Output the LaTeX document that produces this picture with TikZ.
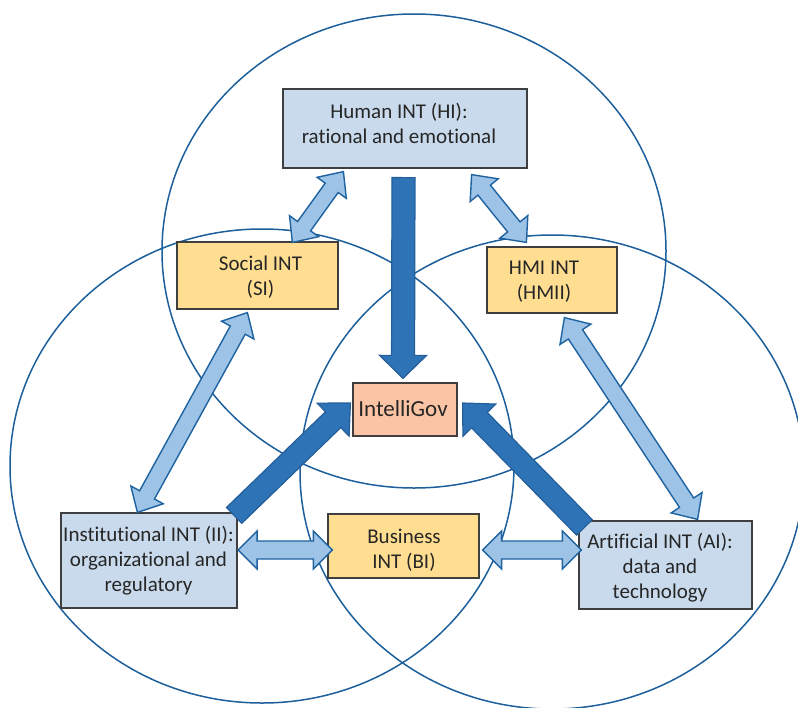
\documentclass[tikz,border=0pt]{standalone}
\usepackage{fontspec}
\setmainfont{Carlito}[Ligatures=NoCommon]
\usetikzlibrary{calc}

\definecolor{ring}{HTML}{1C5F9B}
\definecolor{boxline}{HTML}{3F3F3F}
\definecolor{bluefill}{HTML}{C9DAEC}
\definecolor{goldfill}{HTML}{FFDE91}
\definecolor{peachfill}{HTML}{FBC4A4}
\definecolor{darkarrow}{HTML}{2E73B6}
\definecolor{darkedge}{HTML}{245F9C}
\definecolor{lightarrow}{HTML}{9DC3E6}
\definecolor{lightedge}{HTML}{1F62A0}
\definecolor{ink}{HTML}{262626}

% double-headed block arrow: style, end A, end B, head length, shaft half width, head half width
\newcommand{\biarrow}[6]{%
  \draw[#1] (#2)
    -- ($(#2)!#4!(#3)!#6!90:(#3)$)
    -- ($(#2)!#4!(#3)!#5!90:(#3)$)
    -- ($(#3)!#4!(#2)!#5!-90:(#2)$)
    -- ($(#3)!#4!(#2)!#6!-90:(#2)$)
    -- (#3)
    -- ($(#3)!#4!(#2)!#6!90:(#2)$)
    -- ($(#3)!#4!(#2)!#5!90:(#2)$)
    -- ($(#2)!#4!(#3)!#5!-90:(#3)$)
    -- ($(#2)!#4!(#3)!#6!-90:(#3)$)
    -- cycle;}

% single-headed block arrow: style, tail, tip, head length, shaft half width, head half width
\newcommand{\onearrow}[6]{%
  \draw[#1] ($(#2)!#5!90:(#3)$)
    -- ($(#3)!#4!(#2)!#5!-90:(#2)$)
    -- ($(#3)!#4!(#2)!#6!-90:(#2)$)
    -- (#3)
    -- ($(#3)!#4!(#2)!#6!90:(#2)$)
    -- ($(#3)!#4!(#2)!#5!90:(#2)$)
    -- ($(#2)!#5!-90:(#3)$)
    -- cycle;}

\tikzset{
  ringline/.style={draw=ring, line width=1.5pt},
  box/.style={rectangle, draw=boxline, line width=1.2pt, inner sep=0pt},
  bluebox/.style={box, fill=bluefill},
  goldbox/.style={box, fill=goldfill},
  peachbox/.style={box, fill=peachfill},
  lbl/.style={align=center, inner sep=0pt, text=ink, font=\fontsize{21}{25}\selectfont},
  bigarrow/.style={fill=darkarrow, draw=darkedge, line width=1.2pt, line join=miter},
  thinarrow/.style={fill=lightarrow, draw=lightedge, line width=1.4pt, line join=miter}
}

\begin{document}
\begin{tikzpicture}[x=1pt, y=-1pt]
\useasboundingbox (0,0) rectangle (798,707);
\clip (0,0) rectangle (798,707);

% the three overlapping rings
\draw[ringline] (414,251) ellipse [x radius=252, y radius=237];
\draw[ringline] (262,466) ellipse [x radius=252, y radius=237];
\draw[ringline] (552,472) ellipse [x radius=252, y radius=237];

% boxes
\node[bluebox, minimum width=244pt, minimum height=79pt] (HI) at (405,128.5) {};
\node[goldbox, minimum width=161pt, minimum height=67pt] (SI) at (257.5,275.5) {};
\node[goldbox, minimum width=130pt, minimum height=66pt] (HMII) at (552,280) {};
\node[peachbox, minimum width=104pt, minimum height=53pt] (IG) at (405,409.5) {};
\node[bluebox, minimum width=176pt, minimum height=95pt] (II) at (149,560.5) {};
\node[goldbox, minimum width=151pt, minimum height=64pt] (BI) at (403.5,546) {};
\node[bluebox, minimum width=173pt, minimum height=88pt] (AI) at (665.5,565) {};

% box texts
\node[lbl] (HIt) at ($(HI.center)+(-6,-5)$) {Human INT (HI):\\rational and emotional};
\node[lbl] (SIt) at ($(SI.center)+(3,2)$) {Social INT\\(SI)};
\node[lbl] (HMIIt) at ($(HMII.center)+(-8,1.5)$) {HMI INT\\(HMII)};
\node[lbl, font=\fontsize{23}{27}\selectfont] (IGt) at ($(IG.center)+(-2,-1)$) {IntelliGov};
\node[lbl] (IIt) at ($(II.center)+(-0.5,0.5)$) {Institutional INT (II):\\organizational and\\regulatory};
\node[lbl] (BIt) at ($(BI.center)+(0.5,4.5)$) {Business\\INT (BI)};
\node[lbl] (AIt) at ($(AI.center)+(-5.5,3)$) {Artificial INT (AI):\\data and\\technology};

% arrow end points
\coordinate (hiOut) at ($(HI.south)+(-1.5,9)$);
\coordinate (igTop) at ($(IG.north)+(-2,-4)$);
\coordinate (iiOut) at ($(II.north east)+(-3.5,3)$);
\coordinate (igLeft) at ($(IG.west)+(-2,-6.5)$);
\coordinate (aiOut) at ($(AI.north west)+(6,7)$);
\coordinate (igRight) at ($(IG.east)+(5,-6.5)$);

\coordinate (hiSW) at ($(HI.south west)+(61,3)$);
\coordinate (siTop) at ($(SI.north west)+(116,1)$);
\coordinate (hiSE) at ($(HI.south east)+(-56,6)$);
\coordinate (hmiiTop) at ($(HMII.north west)+(40,-4)$);
\coordinate (siBot) at ($(SI.south west)+(71,3)$);
\coordinate (iiTop) at ($(II.north west)+(77,0)$);
\coordinate (hmiiBot) at ($(HMII.south west)+(78,4)$);
\coordinate (aiTop) at ($(AI.north east)+(-55,-1)$);
\coordinate (iiRight) at ($(II.east)+(0.5,-10.5)$);
\coordinate (biLeft) at ($(BI.west)+(5,4)$);
\coordinate (biRight) at ($(BI.east)+(3,4)$);
\coordinate (aiLeft) at ($(AI.west)+(3,-15)$);

% flows into IntelliGov
\onearrow{bigarrow}{hiOut}{igTop}{23pt}{11.5pt}{23.5pt}
\onearrow{bigarrow}{iiOut}{igLeft}{24pt}{11pt}{23pt}
\onearrow{bigarrow}{aiOut}{igRight}{24pt}{11pt}{23pt}

% two-way links
\biarrow{thinarrow}{hiSW}{siTop}{20pt}{8pt}{18pt}
\biarrow{thinarrow}{hiSE}{hmiiTop}{20pt}{8pt}{18pt}
\biarrow{thinarrow}{siBot}{iiTop}{20pt}{8.5pt}{18.5pt}
\biarrow{thinarrow}{hmiiBot}{aiTop}{20pt}{8.5pt}{18.5pt}
\biarrow{thinarrow}{iiRight}{biLeft}{19pt}{9pt}{19pt}
\biarrow{thinarrow}{biRight}{aiLeft}{19pt}{9pt}{19pt}
\end{tikzpicture}
\end{document}
